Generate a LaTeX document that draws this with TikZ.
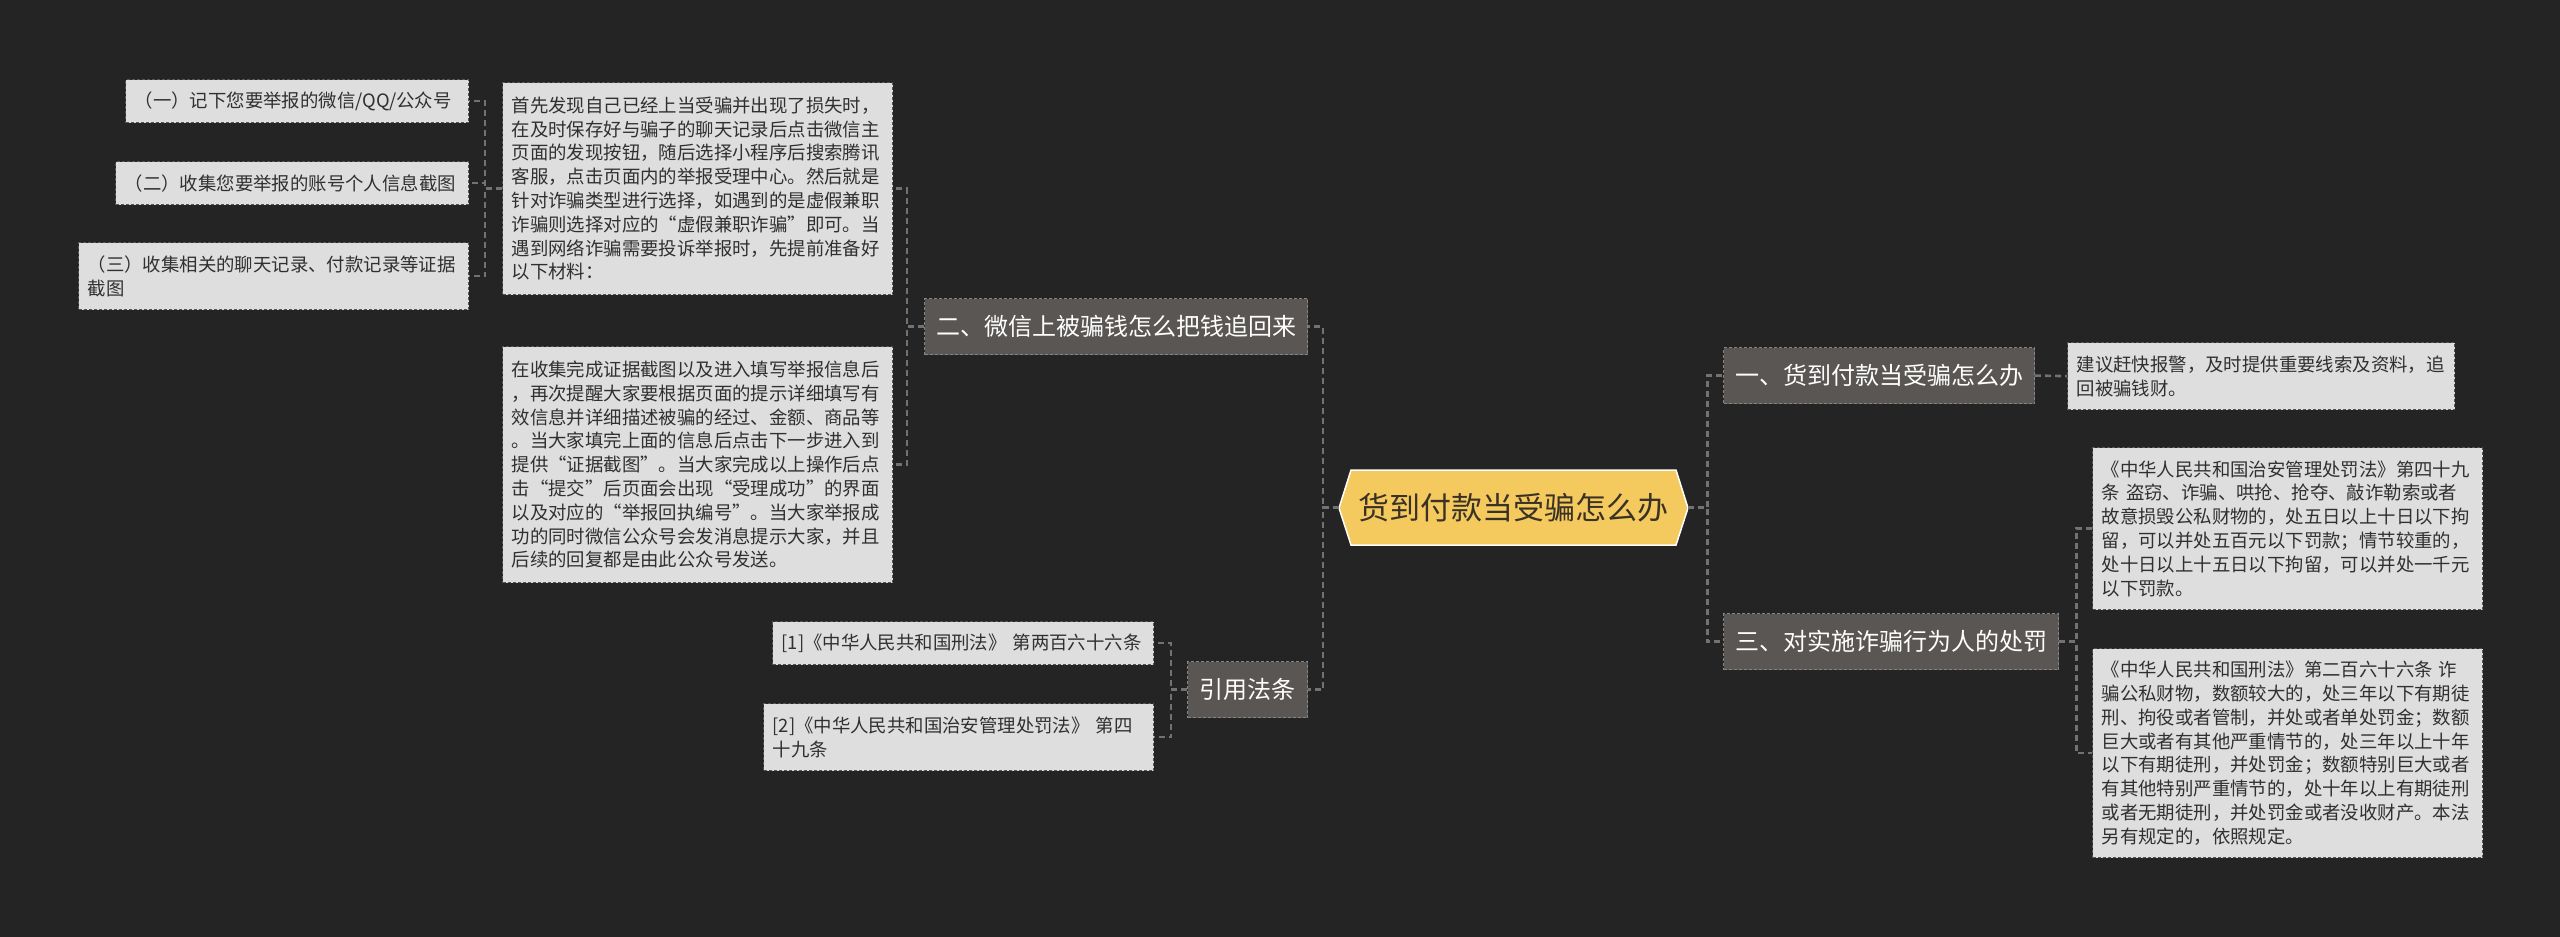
\documentclass[tikz,border=0pt]{standalone}
\usepackage{fontspec}
\setmainfont{Noto Sans CJK SC}
\definecolor{bg}{HTML}{242424}
\definecolor{connc}{HTML}{727272}
\definecolor{leaff}{HTML}{DEDEDE}
\definecolor{leafb}{HTML}{555555}
\definecolor{leaft}{HTML}{303030}
\definecolor{branchf}{HTML}{5A5653}
\definecolor{branchb}{HTML}{858585}
\definecolor{rootf}{HTML}{F4C95D}
\definecolor{roott}{HTML}{3A3226}
\begin{document}
\begin{tikzpicture}[x=1pt,y=-1pt,
  conn/.style={draw=connc, line width=2.6pt, dash pattern=on 6pt off 4pt},
  leaf/.style={rectangle, draw=leafb, fill=leaff, line width=1.2pt, dash pattern=on 3pt off 2pt,
    text=leaft, font=\fontsize{18.4}{23.8}\selectfont, align=left,
    inner xsep=9pt, inner ysep=0pt, anchor=north west},
  branch/.style={rectangle, draw=branchb, fill=branchf, line width=1.2pt, dash pattern=on 3pt off 2pt,
    text=white, font=\fontsize{24}{28}\selectfont, align=center, inner sep=0pt, anchor=north west},
]
\useasboundingbox (0,0) rectangle (2560,937);
\fill[bg] (0,0) rectangle (2560,937);

% root
\filldraw[fill=rootf, draw=white, line width=1.5pt]
  (1339,508) -- (1351,470) -- (1676,470) -- (1688,508) -- (1676,545) -- (1351,545) -- cycle;
\node[minimum width=349pt, minimum height=75pt, inner sep=0pt, text=roott,
  font=\fontsize{31}{36}\selectfont] (root) at (1513.5,507.5) {货到付款当受骗怎么办};

% right side
\node[branch, minimum width=311pt, minimum height=56pt] (b1) at (1723,347) {一、货到付款当受骗怎么办};
\node[branch, minimum width=335pt, minimum height=56pt] (b3) at (1723,613) {三、对实施诈骗行为人的处罚};
\node[leaf, minimum width=387pt, minimum height=67pt, text width=369pt] (l1) at (2067,342)
  {建议赶快报警，及时提供重要线索及资料，追\\回被骗钱财。};
\node[leaf, minimum width=390pt, minimum height=162pt, text width=372pt] (l3a) at (2092,447)
  {《中华人民共和国治安管理处罚法》第四十九\\条~盗窃、诈骗、哄抢、抢夺、敲诈勒索或者\\故意损毁公私财物的，处五日以上十日以下拘\\留，可以并处五百元以下罚款；情节较重的，\\处十日以上十五日以下拘留，可以并处一千元\\以下罚款。};
\node[leaf, minimum width=390pt, minimum height=209pt, text width=372pt] (l3b) at (2092,648)
  {《中华人民共和国刑法》第二百六十六条~诈\\骗公私财物，数额较大的，处三年以下有期徒\\刑、拘役或者管制，并处或者单处罚金；数额\\巨大或者有其他严重情节的，处三年以上十年\\以下有期徒刑，并处罚金；数额特别巨大或者\\有其他特别严重情节的，处十年以上有期徒刑\\或者无期徒刑，并处罚金或者没收财产。本法\\另有规定的，依照规定。};

% left side
\node[branch, minimum width=383pt, minimum height=56pt] (b2) at (924,298) {二、微信上被骗钱怎么把钱追回来};
\node[branch, minimum width=120pt, minimum height=56pt] (law) at (1187,661) {引用法条};
\node[leaf, minimum width=390pt, minimum height=212pt, text width=372pt] (ta) at (502,82)
  {首先发现自己已经上当受骗并出现了损失时，\\在及时保存好与骗子的聊天记录后点击微信主\\页面的发现按钮，随后选择小程序后搜索腾讯\\客服，点击页面内的举报受理中心。然后就是\\针对诈骗类型进行选择，如遇到的是虚假兼职\\诈骗则选择对应的“虚假兼职诈骗”即可。当\\遇到网络诈骗需要投诉举报时，先提前准备好\\以下材料：};
\node[leaf, minimum width=390pt, minimum height=236pt, text width=372pt] (tb) at (502,346)
  {在收集完成证据截图以及进入填写举报信息后\\，再次提醒大家要根据页面的提示详细填写有\\效信息并详细描述被骗的经过、金额、商品等\\。当大家填完上面的信息后点击下一步进入到\\提供“证据截图”。当大家完成以上操作后点\\击“提交”后页面会出现“受理成功”的界面\\以及对应的“举报回执编号”。当大家举报成\\功的同时微信公众号会发消息提示大家，并且\\后续的回复都是由此公众号发送。};
\node[leaf, minimum width=343pt, minimum height=43pt, text width=325pt] (i1) at (125,79)
  {（一）记下您要举报的微信/QQ/公众号};
\node[leaf, minimum width=353pt, minimum height=43pt, text width=335pt] (i2) at (115,161)
  {（二）收集您要举报的账号个人信息截图};
\node[leaf, minimum width=390pt, minimum height=67pt, text width=372pt] (i3) at (78,242)
  {（三）收集相关的聊天记录、付款记录等证据\\截图};
\node[leaf, minimum width=381pt, minimum height=43pt, text width=363pt] (c1) at (772,621)
  {[1]《中华人民共和国刑法》~第两百六十六条};
\node[leaf, minimum width=390pt, minimum height=67pt, text width=372pt] (c2) at (763,703)
  {[2]《中华人民共和国治安管理处罚法》~第四\\十九条};

% connectors
\draw[conn] (root.east) -- ++(19,0) |- (b1.west);
\draw[conn] (root.east) -- ++(19,0) |- (b3.west);
\draw[conn] (root.west) -- ++(-16,0) |- (b2.east);
\draw[conn] (root.west) -- ++(-16,0) |- (law.east);
\draw[conn] (b1.east) -- (l1.west);
\draw[conn] (b3.east) -- ++(17,0) |- (l3a.west);
\draw[conn] (b3.east) -- ++(17,0) |- (l3b.west);
\draw[conn] (b2.west) -- ++(-17,0) |- (ta.east);
\draw[conn] (b2.west) -- ++(-17,0) |- (tb.east);
\draw[conn] (ta.west) -- ++(-17,0) |- (i1.east);
\draw[conn] (ta.west) -- ++(-17,0) |- (i2.east);
\draw[conn] (ta.west) -- ++(-17,0) |- (i3.east);
\draw[conn] (law.west) -- ++(-16,0) |- (c1.east);
\draw[conn] (law.west) -- ++(-16,0) |- (c2.east);
\end{tikzpicture}
\end{document}
